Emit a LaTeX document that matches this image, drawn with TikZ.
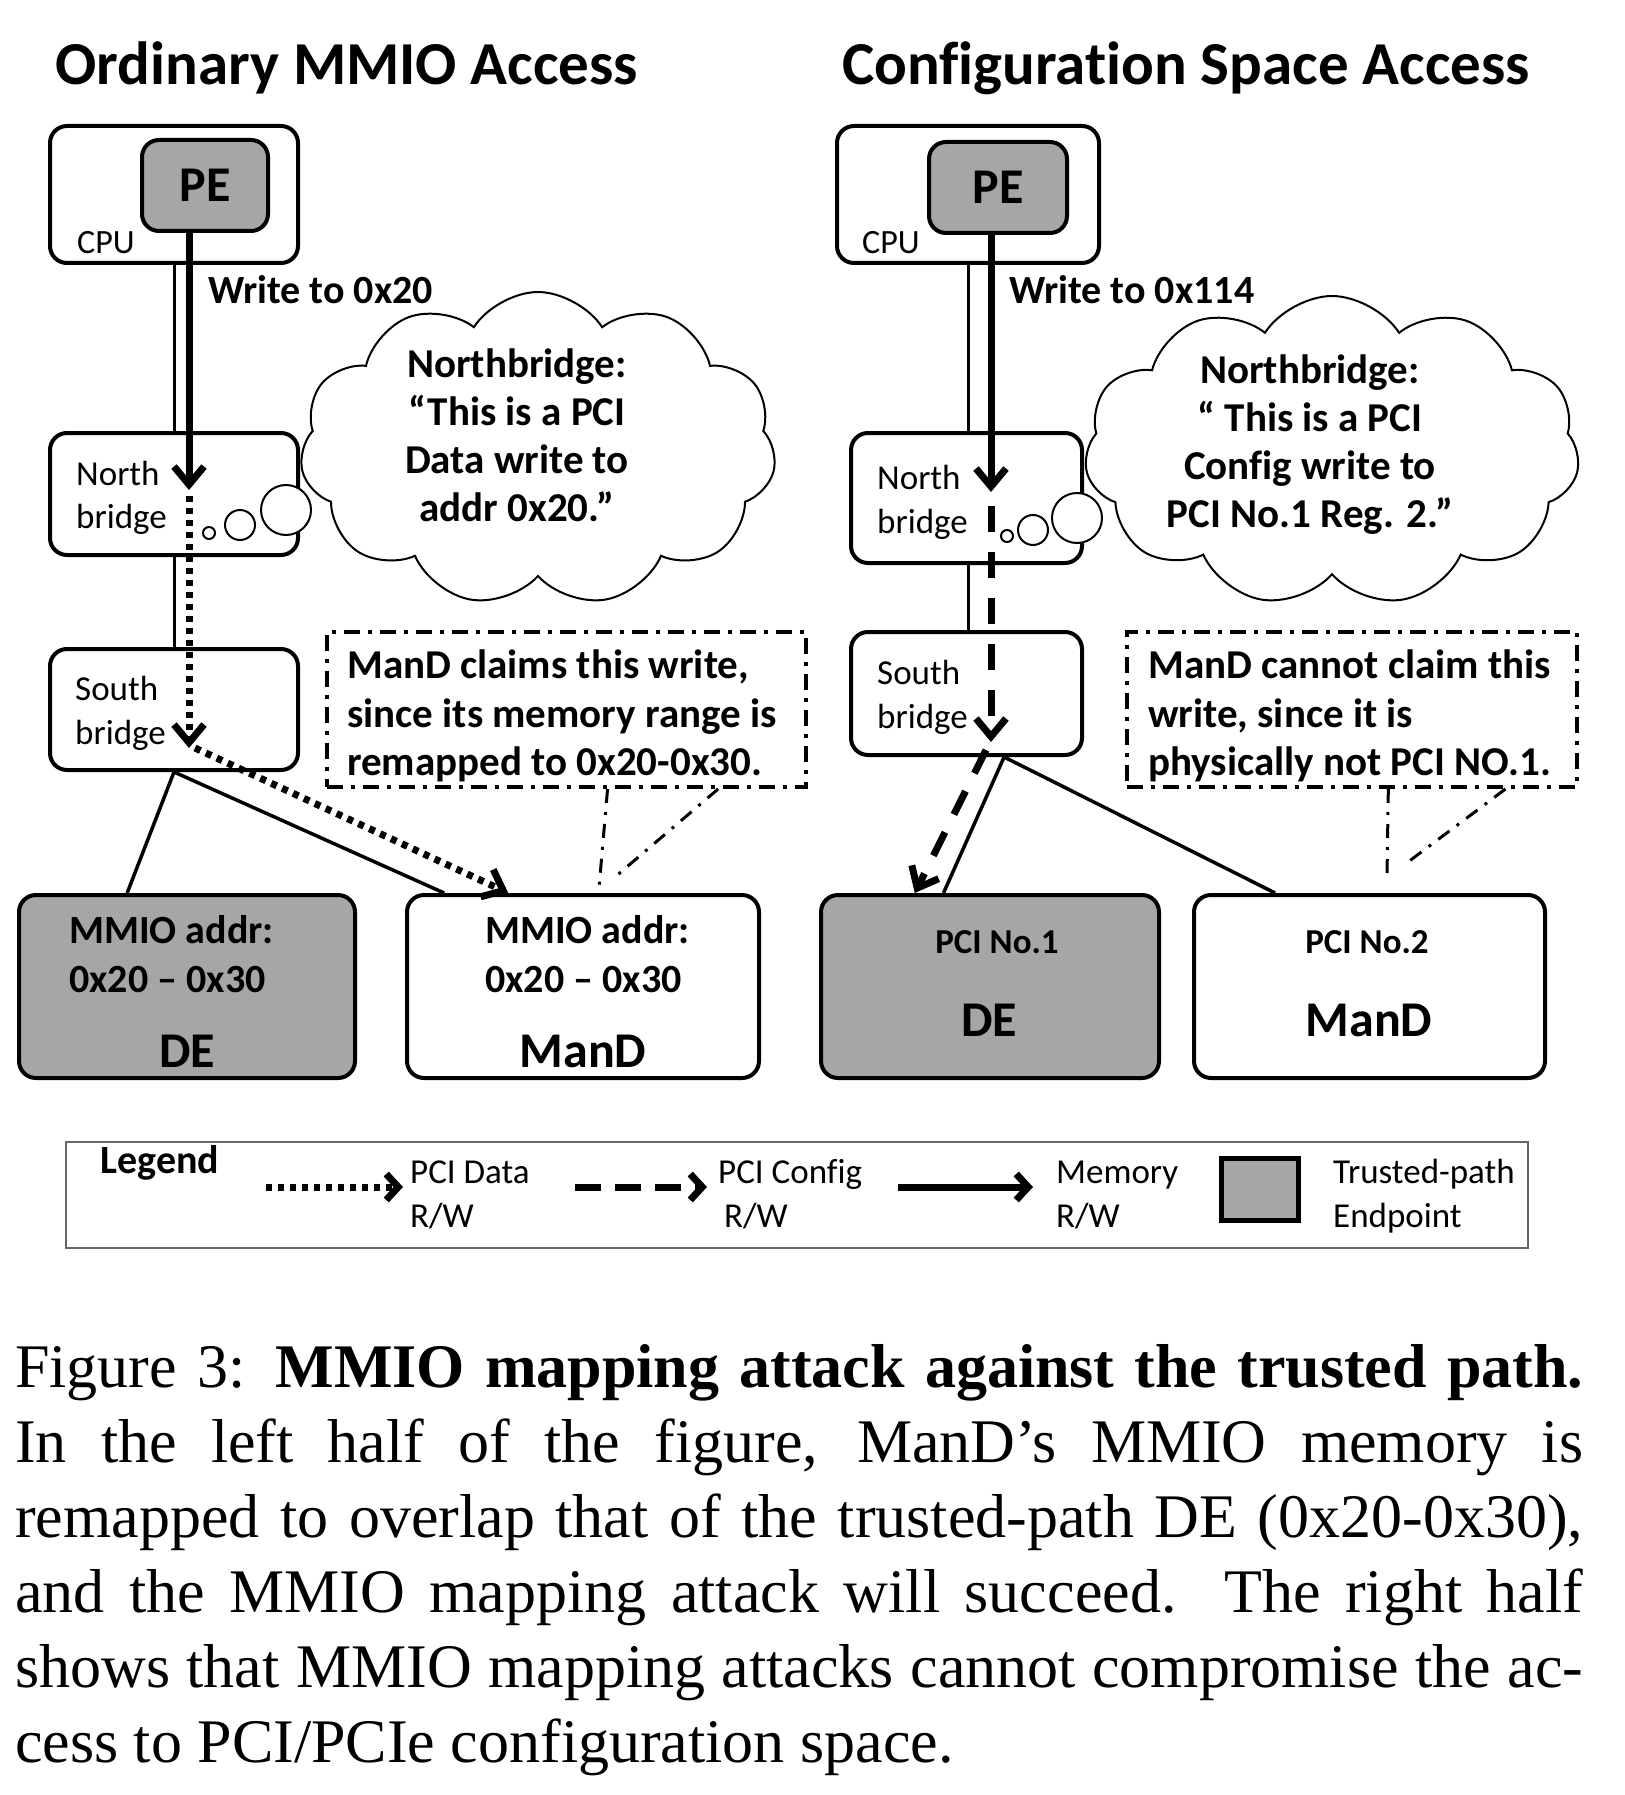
\documentclass[tikz,border=0pt]{standalone}
\usepackage{fontspec}
\setmainfont{Carlito}[Ligatures={TeX,NoCommon}]
\newfontfamily\capfont{Liberation Serif}
\usetikzlibrary{arrows.meta,shapes.symbols,calc}

\begin{document}
\begin{tikzpicture}[x=1pt,y=-1pt,>={Straight Barb[length=18pt,width=30pt]},
		box/.style={draw,line width=4pt,rounded corners=17pt,inner sep=0pt},
		endpt/.style={box,fill=black!35},
		ttl/.style={anchor=base,inner sep=0pt,font=\fontsize{61}{70}\selectfont\bfseries},
		lbl/.style={anchor=base west,inner sep=0pt,font=\fontsize{35}{42}\selectfont},
		blbl/.style={anchor=base west,inner sep=0pt,font=\fontsize{40}{48}\selectfont\bfseries},
		slbl/.style={anchor=base,inner sep=0pt,font=\fontsize{35}{42}\selectfont\bfseries},
		big/.style={anchor=base,inner sep=0pt,font=\fontsize{50}{56}\selectfont\bfseries},
		say/.style={anchor=north,inner sep=0pt,align=center,font=\fontsize{41}{48}\selectfont\bfseries},
		remark/.style={anchor=north west,inner sep=0pt,align=left,font=\fontsize{41}{48.5}\selectfont\bfseries},
		bus/.style={line width=3pt},
		link/.style={line width=3.5pt},
		memw/.style={line width=7pt,->},
		dataw/.style={line width=7pt,dash pattern=on 6pt off 6pt,->},
		cfgw/.style={line width=7pt,dash pattern=on 26pt off 20pt,->},
		notebox/.style={draw,line width=4pt,inner sep=0pt,dash pattern=on 16pt off 8pt on 4pt off 8pt},
		pointer/.style={line width=3pt,dash pattern=on 14pt off 9pt on 3pt off 9pt},
		thought/.style={cloud,draw,line width=2pt,cloud puffs=11,cloud puff arc=115,cloud ignores aspect,inner sep=0pt},
		puff/.style={draw,line width=2pt,fill=white}]
	\useasboundingbox (0,0) rectangle (1624,1795);
%	\draw [help lines] (0,0) grid[step=100] (1624,1795);

	% left half
	\node[ttl] (ttl1) at (347,85) {Ordinary MMIO Access};
	\node[box,minimum width=248pt,minimum height=137pt] (cpu1) at (174,194.5) {};
	\node[endpt,minimum width=126pt,minimum height=91pt,font=\fontsize{50}{56}\selectfont\bfseries] (pe1) at (205,185.5) {PE};
	\node[lbl,font=\fontsize{34}{40}\selectfont] (cpulbl1) at (77,254) {CPU};
	\node[box,minimum width=248pt,minimum height=122pt] (nb1) at (174,494) {};
	\node[lbl] (nbt1) at (76,485) {North};
	\node[lbl] (nbb1) at (76,528) {bridge};
	\node[box,minimum width=248pt,minimum height=121pt] (sb1) at (174,709.5) {};
	\node[lbl] (sbt1) at (75,700) {South};
	\node[lbl] (sbb1) at (75,744) {bridge};
	\node[blbl] (wr1) at (208,303) {Write to 0x20};
	\node[thought,minimum width=476pt,minimum height=314pt] (cl1) at (538,449) {};
	\node[say] (clt1) at (517,349) {Northbridge:\\“This is a PCI\\Data write to\\addr 0x20.”};
	\node[notebox,minimum width=479pt,minimum height=155pt] (note1) at (566.5,709.5) {};
	\node[remark] (nt1) at (347,650) {ManD claims this write,\\since its memory range is\\remapped to 0x20-0x30.};
	\node[endpt,minimum width=336pt,minimum height=183pt] (de1) at (187,986.5) {};
	\node[blbl] (de1a) at (69,943) {MMIO addr:};
	\node[blbl] (de1b) at (69,992) {0x20 – 0x30};
	\node[big] (de1c) at (187,1067) {DE};
	\node[box,minimum width=352pt,minimum height=183pt] (mand1) at (583,986.5) {};
	\node[blbl] (mand1a) at (485,943) {MMIO addr:};
	\node[blbl] (mand1b) at (485,992) {0x20 – 0x30};
	\node[big] (mand1c) at (583,1067) {ManD};

	\coordinate (nbin1) at (189,490);
	\coordinate (sbin1) at (189,748);
	\coordinate (tip1) at (599,888);
	\draw[bus] (cpu1.south) -- (nb1.north);
	\draw[bus] (nb1.south) -- (sb1.north);
	\draw[memw] (pe1.south -| nbin1) -- (nbin1);
	\draw[dataw] ([yshift=-6pt]nbin1) -- (sbin1);
	\draw[link] (sb1.south) -- ($(de1.north west)!.324!(de1.north east)$);
	\draw[link] (sb1.south) -- ($(mand1.north west)!.11!(mand1.north east)$);
	\draw[dataw] ([xshift=6pt]sbin1) -- ($(mand1.north west)!.29!(mand1.north east)$);
	\draw[pointer] ($(note1.south west)!.585!(note1.south east)$) -- (tip1);
	\draw[pointer] ($(note1.south west)!.814!(note1.south east)$) -- ([shift={(16pt,11pt)}]tip1);
	\draw[puff] (209,533) circle[radius=6pt];
	\draw[puff] (240,525) circle[radius=15pt];
	\draw[puff] (286,510) circle[radius=25pt];

	% right half
	\node[ttl] (ttl2) at (1186,85) {Configuration Space Access};
	\node[box,minimum width=262pt,minimum height=137pt] (cpu2) at (968,194.5) {};
	\node[endpt,minimum width=138pt,minimum height=91pt,font=\fontsize{50}{56}\selectfont\bfseries] (pe2) at (998,187.5) {PE};
	\node[lbl,font=\fontsize{34}{40}\selectfont] (cpulbl2) at (862,254) {CPU};
	\node[box,minimum width=231pt,minimum height=130pt] (nb2) at (966.5,498) {};
	\node[lbl] (nbt2) at (877,489) {North};
	\node[lbl] (nbb2) at (877,533) {bridge};
	\node[box,minimum width=231pt,minimum height=123pt] (sb2) at (966.5,693.5) {};
	\node[lbl] (sbt2) at (877,684) {South};
	\node[lbl] (sbb2) at (877,728) {bridge};
	\node[blbl] (wr2) at (1009,303) {Write to 0x114};
	\node[thought,minimum width=495pt,minimum height=310pt] (cl2) at (1332,451) {};
	\node[say] (clt2) at (1310,355) {Northbridge:\\“ This is a PCI\\Config write to\\PCI No.1 Reg. 2.”};
	\node[notebox,minimum width=450pt,minimum height=155pt] (note2) at (1352,709.5) {};
	\node[remark] (nt2) at (1148,650) {ManD cannot claim this\\write, since it is\\physically not PCI NO.1.};
	\node[endpt,minimum width=338pt,minimum height=183pt] (de2) at (990,986.5) {};
	\node[slbl] (de2a) at (997,953) {PCI No.1};
	\node[big] (de2b) at (989,1036) {DE};
	\node[box,minimum width=351pt,minimum height=183pt] (mand2) at (1369.5,986.5) {};
	\node[slbl] (mand2a) at (1367,953) {PCI No.2};
	\node[big] (mand2b) at (1369,1036) {ManD};

	\coordinate (nbin2) at (991,492);
	\coordinate (sbin2) at (991,742);
	\coordinate (sbout2) at ($(sb2.south west)!.66!(sb2.south east)$);
	\coordinate (tip2) at (1387,876);
	\draw[bus] (cpu2.south) -- (cpu2.south |- nb2.north);
	\draw[bus] (cpu2.south |- nb2.south) -- (cpu2.south |- sb2.north);
	\draw[memw] (pe2.south -| nbin2) -- (nbin2);
	\draw[cfgw] ([yshift=-14pt]nbin2) -- (sbin2);
	\draw[link] (sbout2) -- ($(de2.north west)!.364!(de2.north east)$);
	\draw[link] (sbout2) -- ($(mand2.north west)!.234!(mand2.north east)$);
	\draw[cfgw] ([shift={(-5pt,-8pt)}]sbin2) -- ($(de2.north west)!.28!(de2.north east)$);
	\draw[pointer] ($(note2.south west)!.58!(note2.south east)$) -- (tip2);
	\draw[pointer] ($(note2.south west)!.838!(note2.south east)$) -- ([shift={(17pt,11pt)}]tip2);
	\draw[puff] (1007,536) circle[radius=6pt];
	\draw[puff] (1033,530) circle[radius=15pt];
	\draw[puff] (1077,518) circle[radius=25pt];

	% legend
	\node[draw=black!60,line width=2pt,inner sep=0pt,minimum width=1462pt,minimum height=106pt] (leg) at (797,1195) {};
	\node[anchor=base,inner sep=0pt,font=\fontsize{40}{48}\selectfont\bfseries] (legt) at (160,1173) {Legend};
	\draw[dataw,>={Straight Barb[length=12pt,width=26pt]}] (266,1187) -- (403,1187);
	\node[lbl] (legd1) at (410,1183) {PCI Data};
	\node[lbl] (legd2) at (410,1227) {R/W};
	\draw[cfgw,dash pattern=on 26pt off 14pt,>={Straight Barb[length=12pt,width=26pt]}] (575,1187) -- (707,1187);
	\node[lbl] (legc1) at (718,1183) {PCI Config};
	\node[lbl] (legc2) at (724,1227) {R/W};
	\draw[memw,>={Straight Barb[length=12pt,width=26pt]}] (898,1187) -- (1033,1187);
	\node[lbl] (legm1) at (1056,1183) {Memory};
	\node[lbl] (legm2) at (1056,1227) {R/W};
	\node[draw,line width=5pt,fill=black!35,inner sep=0pt,minimum width=77pt,minimum height=62pt] (legp) at (1259.5,1189) {};
	\node[lbl] (legp1) at (1333,1183) {Trusted-path};
	\node[lbl] (legp2) at (1333,1227) {Endpoint};

	% caption
	\node[anchor=north west,inner sep=0pt,text width=1568pt,align=justify,font=\capfont\fontsize{62}{75}\selectfont] (cap) at (15,1344) {\tolerance=10000\hbadness=10000\noindent
		Figure 3: \textbf{MMIO mapping attack against the trusted path.}\linebreak
		In the left half of the figure, ManD’s MMIO memory is\linebreak
		remapped to overlap that of the trusted-path DE (0x20-0x30),\linebreak
		and the MMIO mapping attack will succeed.  The right half\linebreak
		shows that MMIO mapping attacks cannot compromise the ac-\linebreak
		cess to PCI/PCIe configuration space.};
\end{tikzpicture}
\end{document}
